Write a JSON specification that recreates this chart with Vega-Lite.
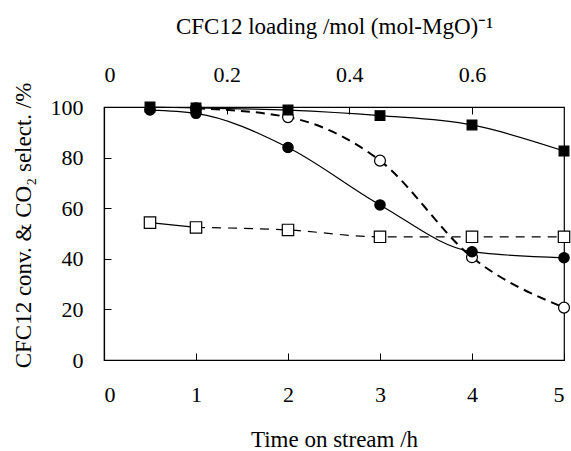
{
  "$schema": "https://vega.github.io/schema/vega-lite/v6.json",
  "width": 460,
  "height": 253,
  "autosize": {"type": "none"},
  "padding": {"left": 104, "top": 107, "right": 7, "bottom": 91},
  "background": "white",
  "config": {
    "view": {"stroke": "black", "strokeWidth": 1.2},
    "font": "Liberation Serif",
    "style": {
      "guide-label": {"font": "Liberation Serif", "fontSize": 22, "fill": "black"},
      "guide-title": {"font": "Liberation Serif", "fontSize": 23, "fill": "black", "fontWeight": "normal"}
    },
    "axis": {
      "grid": false,
      "domainColor": "black",
      "domainWidth": 1.2,
      "tickColor": "black",
      "tickWidth": 1,
      "labelColor": "black",
      "titleColor": "black",
      "labelFont": "Liberation Serif",
      "titleFont": "Liberation Serif",
      "labelFontSize": 22,
      "titleFontSize": 23,
      "titleFontWeight": "normal"
    }
  },
  "datasets": {
    "series": [
      {"series": "fsq", "time": 0.5, "value": 100},
      {"series": "fsq", "time": 1, "value": 99.6},
      {"series": "fsq", "time": 2, "value": 98.8},
      {"series": "fsq", "time": 3, "value": 96.6},
      {"series": "fsq", "time": 4, "value": 92.9},
      {"series": "fsq", "time": 5, "value": 82.6},
      {"series": "fci", "time": 0.5, "value": 98.8},
      {"series": "fci", "time": 1, "value": 97.5},
      {"series": "fci", "time": 2, "value": 84},
      {"series": "fci", "time": 3, "value": 61.3},
      {"series": "fci", "time": 4, "value": 42.8},
      {"series": "fci", "time": 5, "value": 40.4},
      {"series": "oci", "time": 1, "value": 99.5},
      {"series": "oci", "time": 2, "value": 96},
      {"series": "oci", "time": 3, "value": 78.8},
      {"series": "oci", "time": 4, "value": 40.6},
      {"series": "oci", "time": 5, "value": 20.7},
      {"series": "osq", "time": 0.5, "value": 54.3},
      {"series": "osq", "time": 1, "value": 52.4},
      {"series": "osq", "time": 2, "value": 51.4},
      {"series": "osq", "time": 3, "value": 48.7},
      {"series": "osq", "time": 4, "value": 48.7},
      {"series": "osq", "time": 5, "value": 48.7}
    ],
    "loading": [
      {"loading": 0},
      {"loading": 0.75}
    ]
  },
  "resolve": {"scale": {"x": "independent"}, "axis": {"x": "independent"}},
  "layer": [
    {
      "layer": [
        {
          "data": {"name": "series"},
          "transform": [{"filter": "datum.series === 'fsq' || datum.series === 'fci'"}],
          "mark": {"type": "line", "interpolate": "monotone", "color": "black", "strokeWidth": 1.2},
          "encoding": {
            "x": {"field": "time", "type": "quantitative"},
            "y": {"field": "value", "type": "quantitative"},
            "detail": {"field": "series"}
          }
        },
        {
          "data": {"name": "series"},
          "transform": [{"filter": "datum.series === 'oci'"}],
          "mark": {"type": "line", "interpolate": "monotone", "color": "black", "strokeWidth": 2, "strokeDash": [9, 6]},
          "encoding": {
            "x": {"field": "time", "type": "quantitative"},
            "y": {"field": "value", "type": "quantitative"}
          }
        },
        {
          "data": {"name": "series"},
          "transform": [{"filter": "datum.series === 'osq' && datum.time <= 1"}],
          "mark": {"type": "line", "interpolate": "monotone", "color": "black", "strokeWidth": 1.2},
          "encoding": {
            "x": {"field": "time", "type": "quantitative"},
            "y": {"field": "value", "type": "quantitative"}
          }
        },
        {
          "data": {"name": "series"},
          "transform": [{"filter": "datum.series === 'osq' && datum.time >= 1"}],
          "mark": {"type": "line", "interpolate": "monotone", "color": "black", "strokeWidth": 1.2, "strokeDash": [9, 7]},
          "encoding": {
            "x": {"field": "time", "type": "quantitative"},
            "y": {"field": "value", "type": "quantitative"}
          }
        },
        {
          "data": {"name": "series"},
          "mark": {"type": "point", "filled": true, "stroke": "black", "strokeWidth": 1.2, "opacity": 1},
          "encoding": {
            "x": {
              "field": "time",
              "type": "quantitative",
              "scale": {"domain": [0, 5], "nice": false},
              "axis": {
                "orient": "bottom",
                "values": [0, 1, 2, 3, 4, 5],
                "format": "d",
                "labelFont": "Liberation Serif",
                "labelFontSize": 22,
                "tickSize": -7,
                "labelPadding": 31,
                "title": "Time on stream /h",
                "titlePadding": 23
              }
            },
            "y": {
              "field": "value",
              "type": "quantitative",
              "scale": {"domain": [0, 100], "nice": false},
              "axis": {
                "values": [0, 20, 40, 60, 80, 100],
                "format": "d",
                "labelFont": "Liberation Serif",
                "labelFontSize": 22,
                "tickSize": -7,
                "labelPadding": 28,
                "title": "CFC12 conv. & CO\u2082 select. /%",
                "titleY": 118,
                "titlePadding": 15
              }
            },
            "shape": {
              "field": "series",
              "type": "nominal",
              "scale": {"domain": ["osq", "oci", "fci", "fsq"], "range": ["square", "circle", "circle", "square"]},
              "legend": null
            },
            "fill": {
              "field": "series",
              "type": "nominal",
              "scale": {"domain": ["osq", "oci", "fci", "fsq"], "range": ["white", "white", "black", "black"]},
              "legend": null
            },
            "size": {
              "field": "series",
              "type": "nominal",
              "scale": {"domain": ["osq", "oci", "fci", "fsq"], "range": [130, 95, 110, 140]},
              "legend": null
            },
            "order": {"field": "series", "sort": "descending"}
          }
        }
      ]
    },
    {
      "data": {"name": "loading"},
      "mark": {"type": "point", "opacity": 0},
      "encoding": {
        "x": {
          "field": "loading",
          "type": "quantitative",
          "scale": {"domain": [0, 0.75], "nice": false},
          "axis": {
            "orient": "top",
            "values": [0, 0.2, 0.4, 0.6],
            "format": ".1~f",
            "labelFont": "Liberation Serif",
            "labelFontSize": 22,
            "tickSize": -7,
            "labelPadding": 28,
            "domain": false,
            "title": "CFC12 loading /mol (mol-MgO)\u207b\u00b9",
            "titlePadding": 25
          }
        }
      }
    }
  ]
}
